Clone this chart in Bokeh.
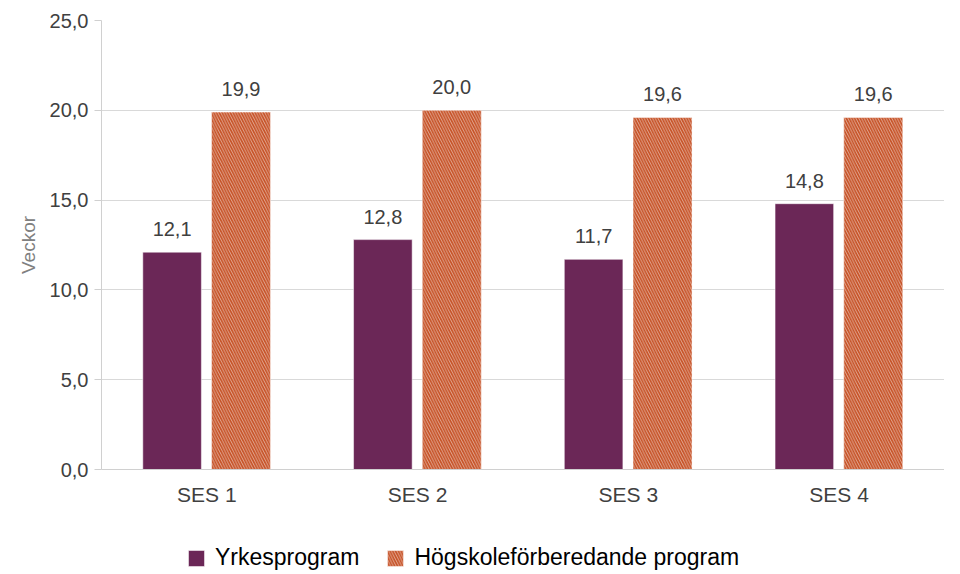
from bokeh.plotting import figure
from bokeh.models import (ColumnDataSource, FactorRange, Range1d, LabelSet, Legend, LegendItem,
                          FixedTicker, CustomJSTickFormatter)
from bokeh.layouts import column
from bokeh.transform import dodge
from bokeh.embed import file_html
from bokeh.resources import INLINE
from bokeh.core.properties import value

categories = ["SES 1", "SES 2", "SES 3", "SES 4"]
yrkes = [12.1, 12.8, 11.7, 14.8]
hogskole = [19.9, 20.0, 19.6, 19.6]
series_names = ["Yrkesprogram", "Högskoleförberedande program"]
y_ticks = [0, 5, 10, 15, 20, 25]

FONT = "Liberation Sans"
PURPLE = "#6b2757"
ORANGE = "#c65227"
HATCH = dict(hatch_pattern="\\", hatch_color="white", hatch_scale=5.5, hatch_weight=0.6,
             hatch_alpha=0.85)

src = ColumnDataSource(dict(
    cat=categories,
    yrkes=yrkes,
    hog=hogskole,
    yrkes_lbl=[f"{v:.1f}".replace(".", ",") for v in yrkes],
    hog_lbl=[f"{v:.1f}".replace(".", ",") for v in hogskole],
))

p = figure(x_range=FactorRange(*categories, range_padding=0), y_range=Range1d(0, 25),
           width=944, height=530, output_backend="svg", toolbar_location=None,
           min_border_left=101, min_border_right=0, min_border_top=20, min_border_bottom=61)
p.outline_line_color = None
p.background_fill_color = "white"
p.border_fill_color = "white"

p.vbar(x=dodge("cat", -0.165, range=p.x_range), top="yrkes", width=0.278, source=src,
       fill_color=PURPLE, line_color="#ffffff", line_width=1, line_alpha=0.5)
p.vbar(x=dodge("cat", 0.162, range=p.x_range), top="hog", width=0.28, source=src,
       fill_color=ORANGE, line_color="#ffffff", line_width=1, line_alpha=0.5, **HATCH)

for col, lbl, off in (("yrkes", "yrkes_lbl", -0.165), ("hog", "hog_lbl", 0.162)):
    ls = LabelSet(x=dodge("cat", off, range=p.x_range), y=col, text=lbl, source=src,
                  text_align="center", text_baseline="alphabetic", y_offset=16,
                  text_font=value(FONT), text_font_size="20px", text_color="#404040")
    p.add_layout(ls)

p.yaxis.ticker = FixedTicker(ticks=y_ticks)
p.yaxis.formatter = CustomJSTickFormatter(code="return tick.toFixed(1).replace('.', ',');")
p.yaxis.axis_label = "Veckor"
p.yaxis.axis_label_text_font = FONT
p.yaxis.axis_label_text_font_style = "normal"
p.yaxis.axis_label_text_font_size = "19px"
p.yaxis.axis_label_text_color = "#808080"
p.yaxis.axis_label_standoff = 8
p.yaxis.axis_line_color = "#d0d0d0"
p.yaxis.major_tick_line_color = "#d0d0d0"
p.yaxis.major_tick_out = 7
p.yaxis.major_tick_in = 0
p.yaxis.minor_tick_line_color = None
p.yaxis.major_label_text_font = FONT
p.yaxis.major_label_text_font_size = "20px"
p.yaxis.major_label_text_color = "#404040"
p.yaxis.major_label_standoff = 6

p.xaxis.axis_line_color = "#d0d0d0"
p.xaxis.major_tick_line_color = None
p.xaxis.minor_tick_line_color = None
p.xaxis.major_label_text_font = FONT
p.xaxis.major_label_text_font_size = "21px"
p.xaxis.major_label_text_color = "#404040"
p.xaxis.major_label_standoff = 7

p.xgrid.grid_line_color = None
p.ygrid.grid_line_color = "#d9d9d9"
p.ygrid.grid_line_width = 1

# legend strip below the chart (its renderers are hidden; only the legend shows)
pl = figure(width=944, height=44, output_backend="svg", toolbar_location=None,
            x_range=FactorRange(*categories), y_range=Range1d(-2, -1),
            x_axis_location=None, y_axis_location=None, min_border=0)
pl.outline_line_color = None
pl.xgrid.grid_line_color = None
pl.ygrid.grid_line_color = None
lr1 = pl.vbar(x="cat", top="yrkes", width=0.3, source=src,
              fill_color=PURPLE, line_color="#ffffff", line_alpha=0.5)
lr2 = pl.vbar(x="cat", top="hog", width=0.3, source=src,
              fill_color=ORANGE, line_color="#ffffff", line_alpha=0.5, **HATCH)
lr1.visible = False
lr2.visible = False
legend = Legend(items=[LegendItem(label=series_names[0], renderers=[lr1], index=0),
                       LegendItem(label=series_names[1], renderers=[lr2], index=0)],
                orientation="horizontal", location=(85, 3), click_policy="none",
                label_text_font=FONT, label_text_font_size="23px", label_text_color="#000000",
                glyph_width=20, glyph_height=20, spacing=26, label_standoff=9,
                border_line_color=None, background_fill_alpha=0, padding=2, margin=0)
pl.add_layout(legend, "center")

open("out.html", "w").write(file_html(column(p, pl, spacing=0), INLINE))
